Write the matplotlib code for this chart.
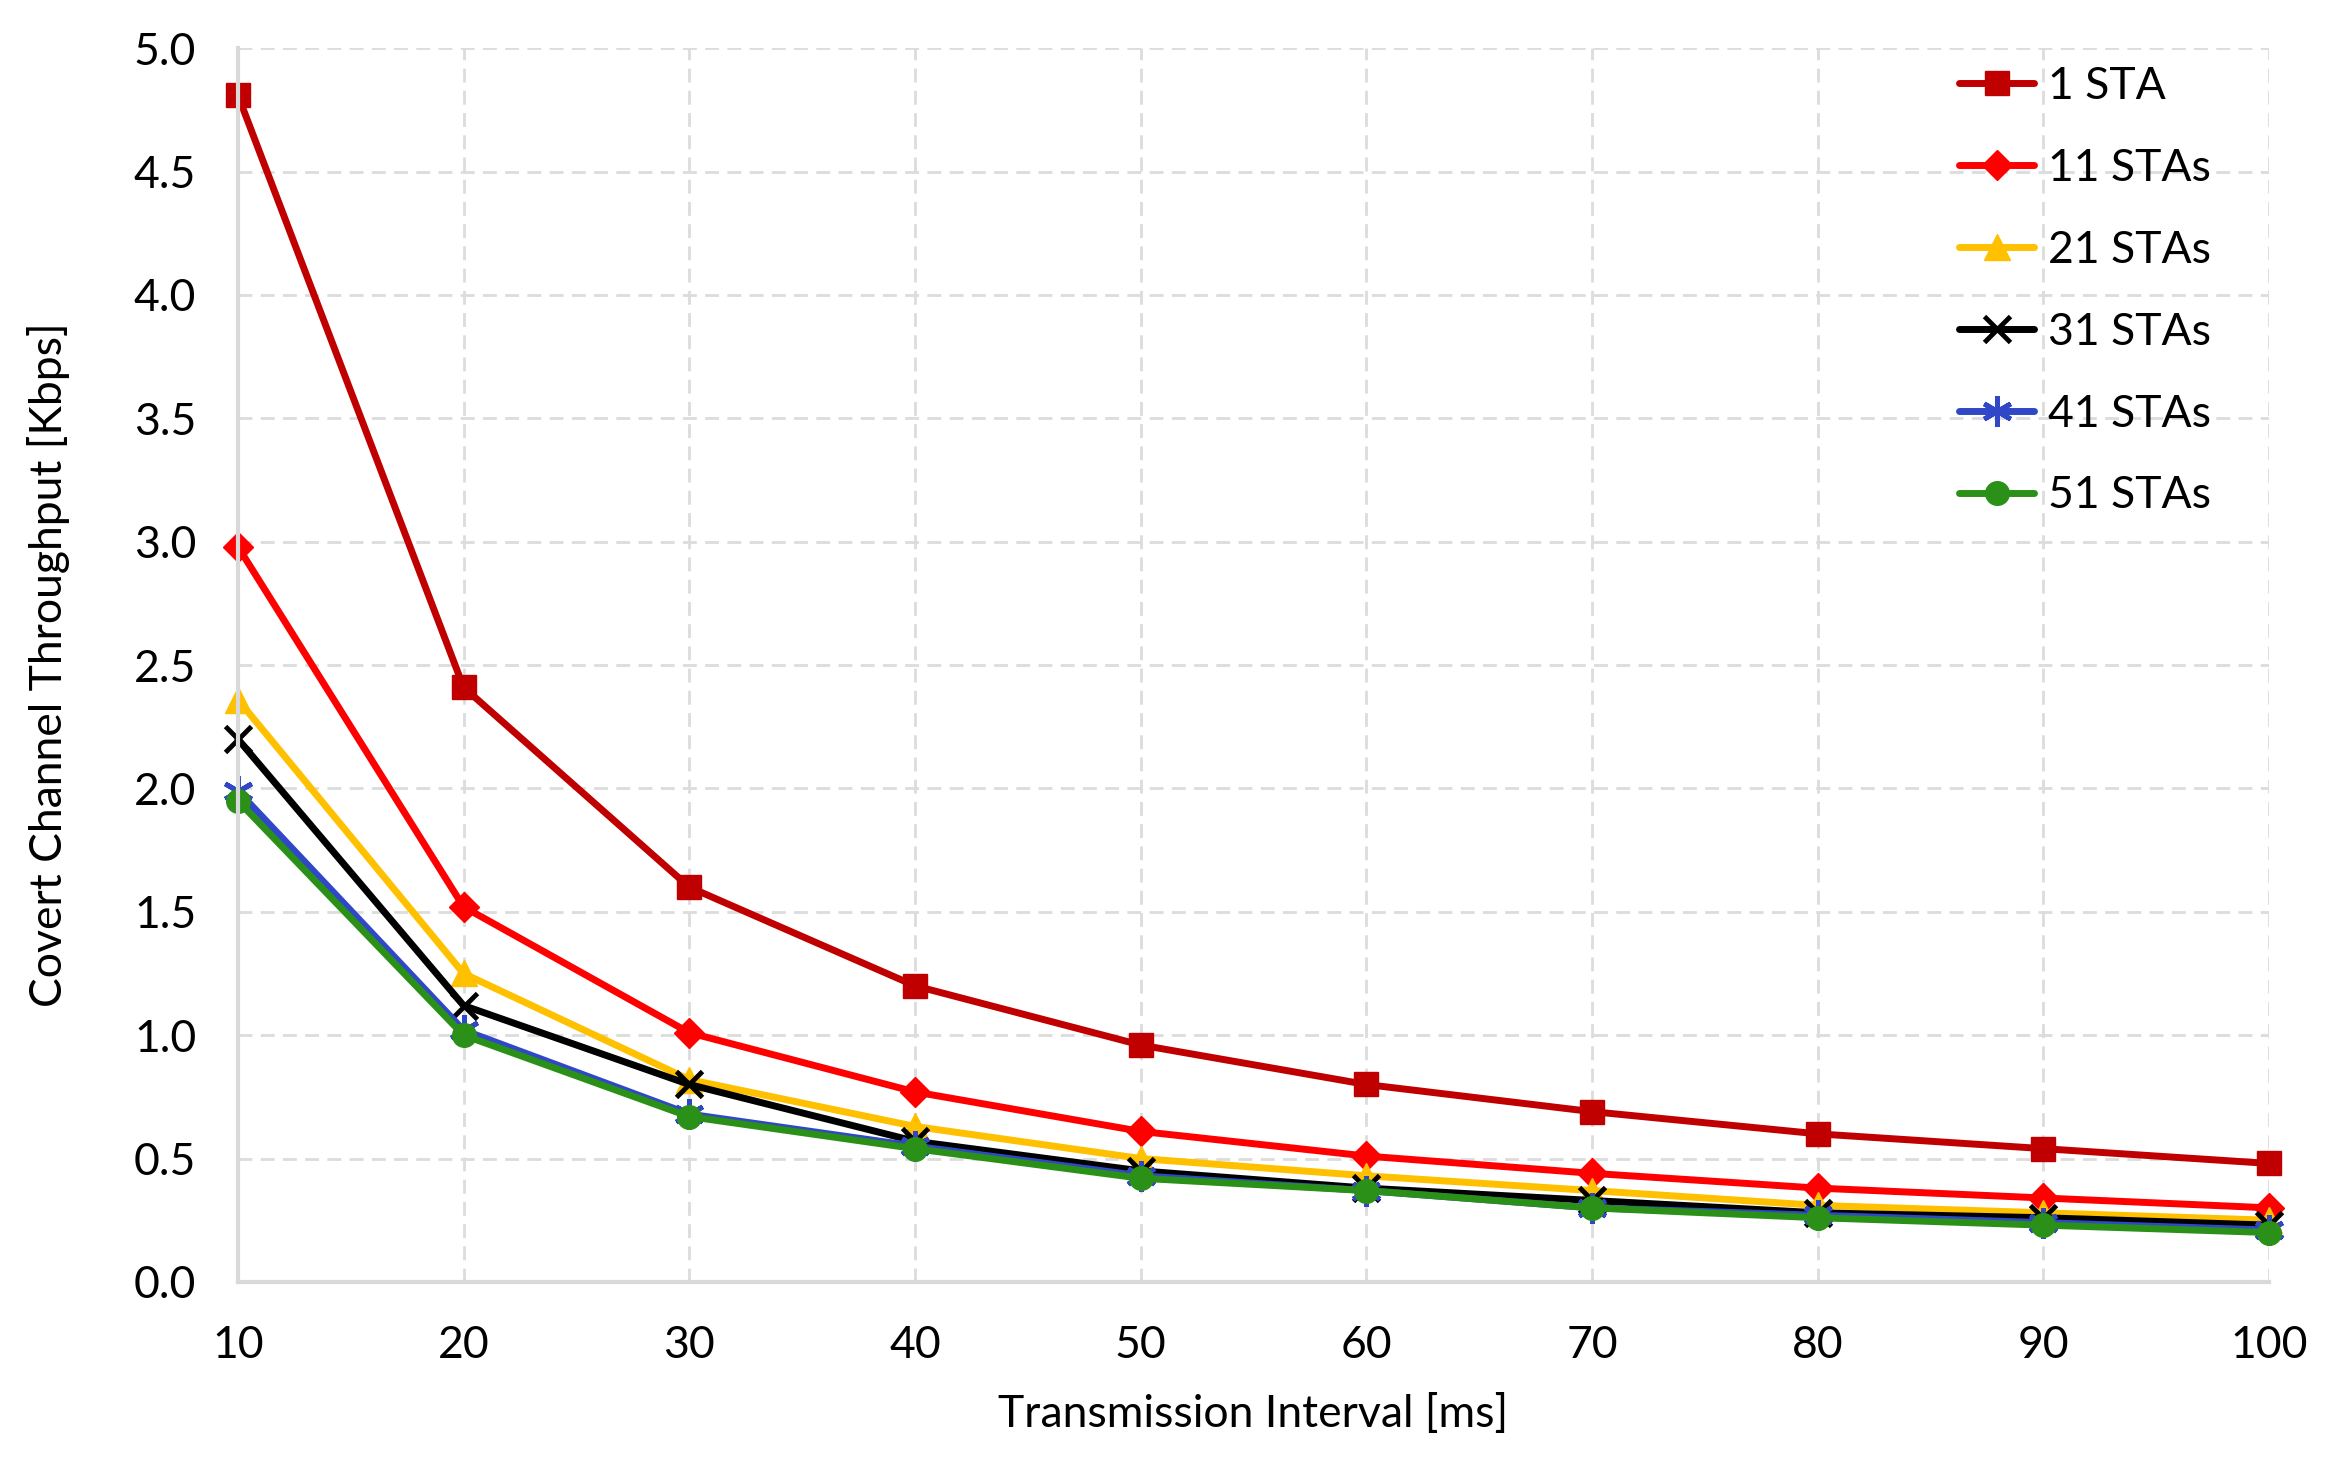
import matplotlib
matplotlib.use("Agg")
import matplotlib.pyplot as plt

plt.rcParams['font.family'] = ['Lato', 'DejaVu Sans']

intervals = [10, 20, 30, 40, 50, 60, 70, 80, 90, 100]

sta_1 = [4.81, 2.41, 1.60, 1.20, 0.96, 0.80, 0.69, 0.60, 0.54, 0.48]
sta_11 = [2.98, 1.52, 1.01, 0.77, 0.61, 0.51, 0.44, 0.38, 0.34, 0.30]
sta_21 = [2.36, 1.25, 0.82, 0.63, 0.50, 0.43, 0.37, 0.31, 0.28, 0.25]
sta_31 = [2.20, 1.12, 0.80, 0.57, 0.45, 0.38, 0.33, 0.28, 0.26, 0.23]
sta_41 = [1.99, 1.02, 0.68, 0.55, 0.43, 0.37, 0.30, 0.27, 0.24, 0.21]
sta_51 = [1.95, 1.00, 0.67, 0.54, 0.42, 0.37, 0.30, 0.26, 0.23, 0.20]

labels = ["1 STA", "11 STAs", "21 STAs", "31 STAs", "41 STAs", "51 STAs"]

fig, ax = plt.subplots(figsize=(23.32, 14.6), dpi=100)
fig.subplots_adjust(left=0.102, right=0.973, top=0.967, bottom=0.122)

styles = [
    ("#C00000", "s", 17),
    ("#FF0000", "D", 15),
    ("#FFC000", "^", 19),
    ("#000000", "x", 19),
    ("#3048C8", (6, 2, 0), 22),
    ("#2A9018", "o", 17),
]
series = [sta_1, sta_11, sta_21, sta_31, sta_41, sta_51]

for vals, lab, (col, mk, ms) in zip(series, labels, styles):
    mew = 3.5 if mk in ("x", (6, 2, 0)) else 1
    ax.plot(intervals, vals, color=col, marker=mk, markersize=ms, linewidth=5,
            markeredgewidth=mew, markeredgecolor=col, label=lab, clip_on=False,
            solid_capstyle='round')

ax.set_xlim(10, 100)
ax.set_ylim(0, 5.0)
ax.set_xticks(intervals)
ax.set_yticks([i * 0.5 for i in range(11)])
ax.set_yticklabels([f"{i * 0.5:.1f}" for i in range(11)])

ax.grid(True, color="#DCDCDC", linestyle=(0, (5, 3)), linewidth=2)
ax.set_axisbelow(True)
for s in ["top", "right"]:
    ax.spines[s].set_visible(False)
for s in ["left", "bottom"]:
    ax.spines[s].set_color("#D9D9D9")
    ax.spines[s].set_linewidth(3)
ax.tick_params(length=0, labelsize=32, colors="black")
ax.tick_params(axis="x", pad=31)
ax.tick_params(axis="y", pad=30)

ax.set_xlabel("Transmission Interval [ms]", fontsize=32, labelpad=20)
ax.set_ylabel("Covert Channel Throughput [Kbps]", fontsize=32, labelpad=46)

ax.legend(loc="upper right", frameon=False, fontsize=32, handlelength=1.7,
          handletextpad=0.3, labelspacing=0.92, borderaxespad=0.0,
          bbox_to_anchor=(0.98, 1.0))

fig.savefig("out.png", dpi=100)
